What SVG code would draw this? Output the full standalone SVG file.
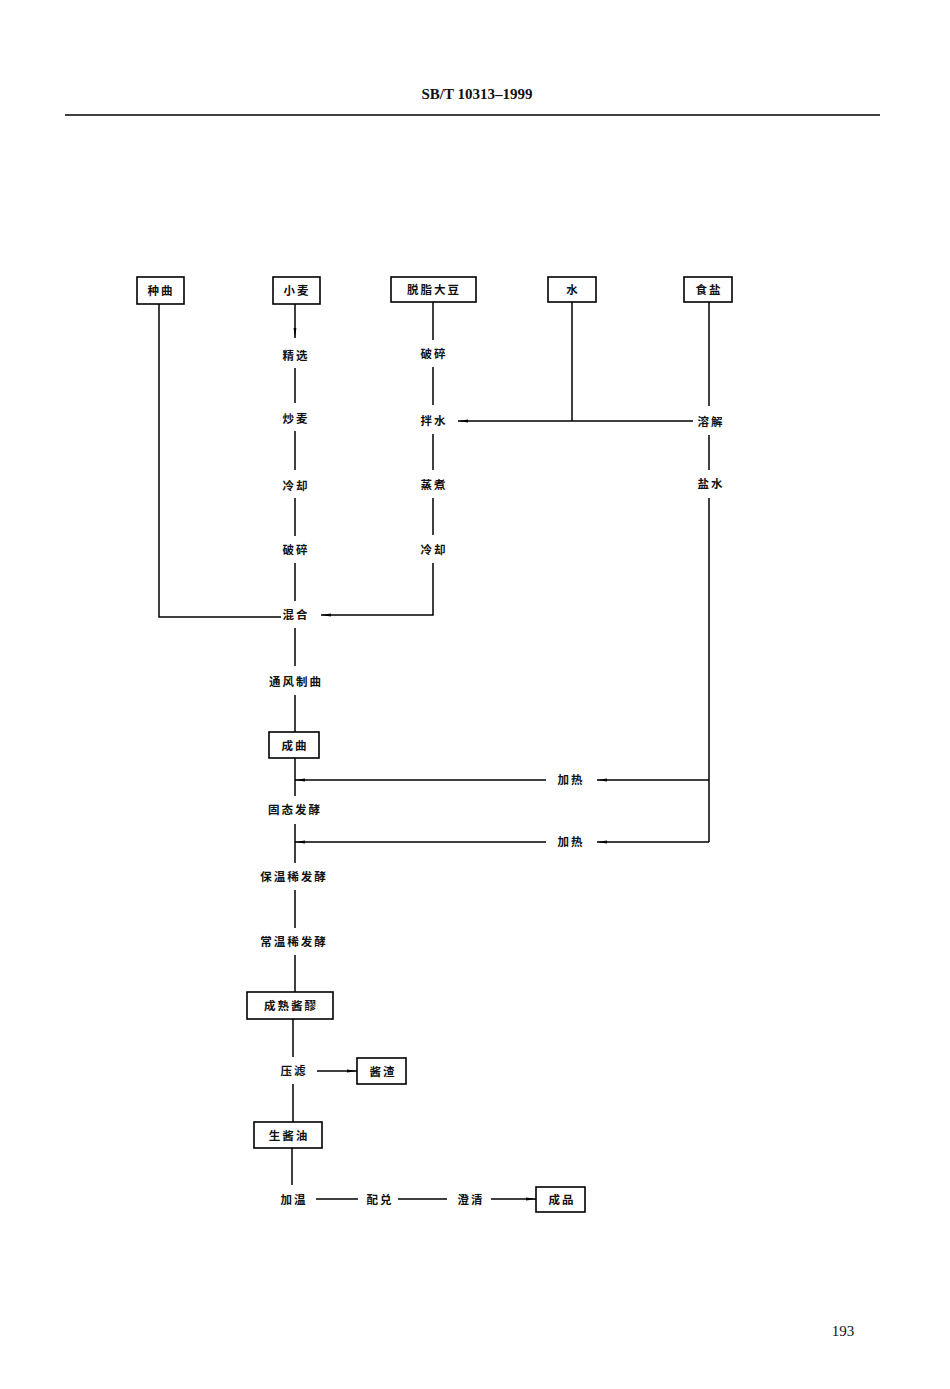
<svg xmlns="http://www.w3.org/2000/svg" width="950" height="1389" viewBox="0 0 950 1389">
<style>
.bg{fill:#fff}
.box{fill:#fff;stroke:#000;stroke-width:1.6}
.t{font-family:"Noto Sans CJK SC","Noto Sans CJK TC",sans-serif;font-size:11.5px;font-weight:bold;fill:#111;text-anchor:middle;dominant-baseline:central;letter-spacing:2px}
.ln{fill:none;stroke:#000;stroke-width:1.5}
.hd{font-family:"Liberation Serif",serif;font-weight:bold;font-size:15px;fill:#111;text-anchor:middle}
.pg{font-family:"Liberation Serif",serif;font-size:15px;fill:#111;text-anchor:middle}
</style>
<defs>
<marker id="ar" viewBox="0 0 10 4" refX="10" refY="2" markerWidth="10" markerHeight="4" markerUnits="userSpaceOnUse" orient="auto">
<path d="M0,0.6 L10,2 L0,3.4 Z" fill="#000"/>
</marker>
</defs>
<rect class="bg" x="0" y="0" width="950" height="1389"/>
<g id="header">
<text class="hd" x="477" y="99">SB/T 10313–1999</text>
<line x1="65" y1="115" x2="880" y2="115" stroke="#000" stroke-width="1.6"/>
</g>
<g id="connectors">
<polyline class="ln" points="159,304 159,617 281,617"/>
<line class="ln" x1="295" y1="304" x2="295" y2="338" marker-end="url(#ar)"/>
<line class="ln" x1="295" y1="368" x2="295" y2="403"/>
<line class="ln" x1="295" y1="431" x2="295" y2="470"/>
<line class="ln" x1="295" y1="498" x2="295" y2="536"/>
<line class="ln" x1="295" y1="563" x2="295" y2="601"/>
<line class="ln" x1="295" y1="628" x2="295" y2="666"/>
<line class="ln" x1="295" y1="695" x2="295" y2="732"/>
<line class="ln" x1="295" y1="758" x2="295" y2="796"/>
<line class="ln" x1="295" y1="824" x2="295" y2="863"/>
<line class="ln" x1="295" y1="890" x2="295" y2="928"/>
<line class="ln" x1="295" y1="955" x2="295" y2="992"/>
<line class="ln" x1="293" y1="1019" x2="293" y2="1057"/>
<line class="ln" x1="293" y1="1084" x2="293" y2="1122"/>
<line class="ln" x1="292" y1="1148" x2="292" y2="1185"/>
<line class="ln" x1="433" y1="302" x2="433" y2="340"/>
<line class="ln" x1="433" y1="367" x2="433" y2="405"/>
<line class="ln" x1="433" y1="434" x2="433" y2="470"/>
<line class="ln" x1="433" y1="498" x2="433" y2="535"/>
<polyline class="ln" points="433,563 433,615 321,615" marker-end="url(#ar)"/>
<line class="ln" x1="572" y1="302" x2="572" y2="421"/>
<line class="ln" x1="693" y1="421" x2="458" y2="421" marker-end="url(#ar)"/>
<line class="ln" x1="709" y1="302" x2="709" y2="406"/>
<line class="ln" x1="709" y1="435" x2="709" y2="470"/>
<line class="ln" x1="709" y1="498" x2="709" y2="842"/>
<line class="ln" x1="709" y1="780" x2="597" y2="780" marker-end="url(#ar)"/>
<line class="ln" x1="546" y1="780" x2="295" y2="780" marker-end="url(#ar)"/>
<line class="ln" x1="709" y1="842" x2="597" y2="842" marker-end="url(#ar)"/>
<line class="ln" x1="546" y1="842" x2="295" y2="842" marker-end="url(#ar)"/>
<line class="ln" x1="317" y1="1071" x2="357" y2="1071" marker-end="url(#ar)"/>
<line class="ln" x1="316" y1="1199" x2="358" y2="1199"/>
<line class="ln" x1="398" y1="1199" x2="447" y2="1199"/>
<line class="ln" x1="491" y1="1199" x2="536" y2="1199" marker-end="url(#ar)"/>
</g>
<g id="n_zhongqu"><rect class="box" x="137" y="277" width="47" height="27"/><text class="t" x="161" y="290">种曲</text></g>
<g id="n_xiaomai"><rect class="box" x="273" y="277" width="47" height="27"/><text class="t" x="297" y="290">小麦</text></g>
<g id="n_tuozhi"><rect class="box" x="391" y="277" width="85" height="25"/><text class="t" x="434" y="289">脱脂大豆</text></g>
<g id="n_shui"><rect class="box" x="548" y="277" width="48" height="25"/><text class="t" x="573" y="289">水</text></g>
<g id="n_shiyan"><rect class="box" x="684" y="277" width="48" height="25"/><text class="t" x="709" y="289">食盐</text></g>
<g id="n_jingxuan"><text class="t" x="296" y="355">精选</text></g>
<g id="n_chaomai"><text class="t" x="296" y="418">炒麦</text></g>
<g id="n_lengque1"><text class="t" x="296" y="485">冷却</text></g>
<g id="n_posui1"><text class="t" x="296" y="549">破碎</text></g>
<g id="n_hunhe"><text class="t" x="296" y="614">混合</text></g>
<g id="n_posui2"><text class="t" x="434" y="353">破碎</text></g>
<g id="n_banshui"><text class="t" x="434" y="420">拌水</text></g>
<g id="n_zhengzhu"><text class="t" x="434" y="484">蒸煮</text></g>
<g id="n_lengque2"><text class="t" x="434" y="549">冷却</text></g>
<g id="n_rongjie"><text class="t" x="711" y="421">溶解</text></g>
<g id="n_yanshui"><text class="t" x="711" y="483">盐水</text></g>
<g id="n_tongfeng"><text class="t" x="296" y="681">通风制曲</text></g>
<g id="n_chengqu"><rect class="box" x="269" y="732" width="50" height="26"/><text class="t" x="295" y="745">成曲</text></g>
<g id="n_jiare1"><text class="t" x="571" y="779">加热</text></g>
<g id="n_gutai"><text class="t" x="295" y="809">固态发酵</text></g>
<g id="n_jiare2"><text class="t" x="571" y="841">加热</text></g>
<g id="n_baowen"><text class="t" x="294" y="876">保温稀发酵</text></g>
<g id="n_changwen"><text class="t" x="294" y="941">常温稀发酵</text></g>
<g id="n_chengshu"><rect class="box" x="247" y="992" width="86" height="27"/><text class="t" x="291" y="1005">成熟酱醪</text></g>
<g id="n_yalv"><text class="t" x="294" y="1070">压滤</text></g>
<g id="n_jiangzha"><rect class="box" x="357" y="1058" width="49" height="26"/><text class="t" x="383" y="1071">酱渣</text></g>
<g id="n_shengjiangyou"><rect class="box" x="254" y="1122" width="68" height="26"/><text class="t" x="289" y="1135">生酱油</text></g>
<g id="n_jiawen"><text class="t" x="294" y="1199">加温</text></g>
<g id="n_peidui"><text class="t" x="380" y="1199">配兑</text></g>
<g id="n_chengqing"><text class="t" x="471" y="1199">澄清</text></g>
<g id="n_chengpin"><rect class="box" x="536" y="1187" width="49" height="25"/><text class="t" x="562" y="1199">成品</text></g>
<g id="page"><text class="pg" x="843" y="1336">193</text></g>
</svg>
